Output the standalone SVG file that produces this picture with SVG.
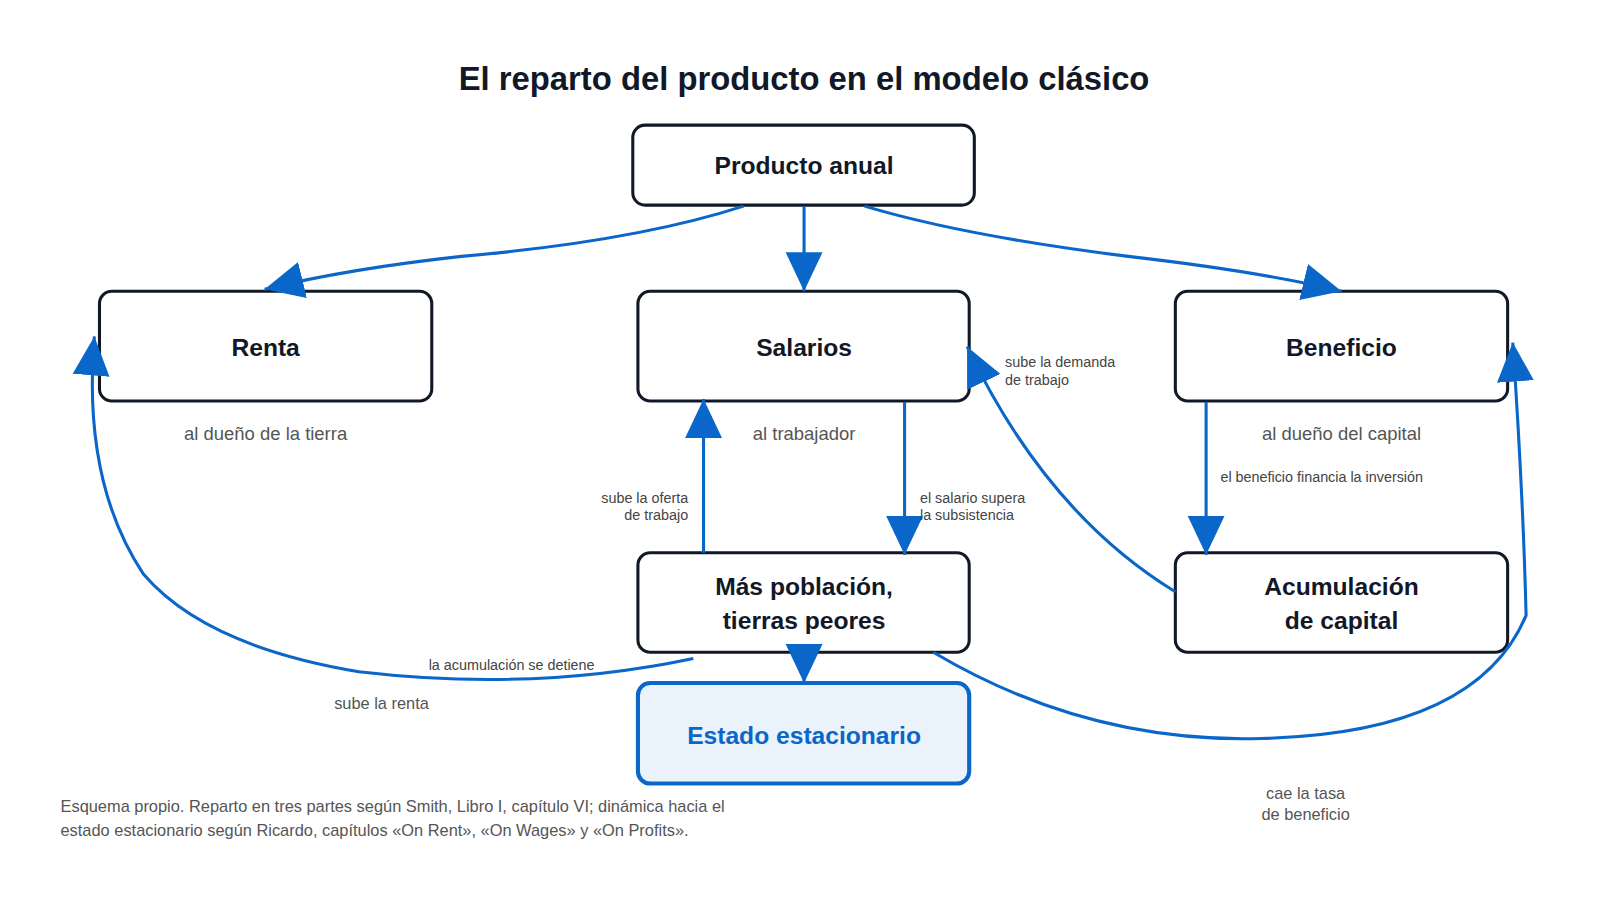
<svg xmlns="http://www.w3.org/2000/svg" width="1600" height="900" viewBox="0 0 1600 900">
<style>
.n{fill:#fff;stroke:#111827;stroke-width:3}
.t{font-family:"Liberation Sans",Arial,sans-serif;font-weight:bold;font-size:24px;fill:#111827;text-anchor:middle}
.s{font-family:"Liberation Sans",Arial,sans-serif;font-size:18px;fill:#555;text-anchor:middle}
.l{font-family:"Liberation Sans",Arial,sans-serif;font-size:14px;fill:#444}
.c{fill:none;stroke:#0a66c8;stroke-width:3}
</style>
<defs>
<marker id="a" markerUnits="userSpaceOnUse" markerWidth="40" markerHeight="40" viewBox="0 0 40 40" refX="38" refY="20" orient="auto"><path d="M0,2 L38,20 L0,38 Z" fill="#0a66c8"/></marker>
</defs>
<rect width="1600" height="900" fill="#fff"/>
<g transform="scale(1.0256)">
<text x="784" y="88" class="t" style="font-size:32px">El reparto del producto en el modelo clásico</text>
<g id="producto"><rect class="n" x="617" y="122" width="333" height="78" rx="12"/><text class="t" x="784" y="170">Producto anual</text></g>
<g id="renta"><rect class="n" x="97" y="284" width="324" height="107" rx="12"/><text class="t" x="259" y="347">Renta</text><text class="s" x="259" y="429">al dueño de la tierra</text></g>
<g id="salarios"><rect class="n" x="622" y="284" width="323" height="107" rx="12"/><text class="t" x="784" y="347">Salarios</text><text class="s" x="784" y="429">al trabajador</text></g>
<g id="beneficio"><rect class="n" x="1146" y="284" width="324" height="107" rx="12"/><text class="t" x="1308" y="347">Beneficio</text><text class="s" x="1308" y="429">al dueño del capital</text></g>
<g id="poblacion"><rect class="n" x="622" y="539" width="323" height="97" rx="12"/><text class="t" x="784" y="580">Más población,</text><text class="t" x="784" y="613">tierras peores</text></g>
<g id="acumulacion"><rect class="n" x="1146" y="539" width="324" height="97" rx="12"/><text class="t" x="1308" y="580">Acumulación</text><text class="t" x="1308" y="613">de capital</text></g>
<g id="estado"><rect x="622" y="666" width="323" height="98" rx="12" fill="#eaf2fc" stroke="#0a66c8" stroke-width="4"/><text class="t" x="784" y="725" style="fill:#0a66c8">Estado estacionario</text></g>
<g id="connectors">
<path class="c" marker-end="url(#a)" d="M725,201 Q620,235 450,250 Q340,262 258,282"/>
<path class="c" marker-end="url(#a)" d="M784,201 L784,284"/>
<path class="c" marker-end="url(#a)" d="M843,201 Q940,230 1100,250 Q1230,265 1308,284"/>
<path class="c" marker-end="url(#a)" d="M882,392 L882,541"/>
<path class="c" marker-end="url(#a)" d="M686,539 L686,389"/>
<path class="c" marker-end="url(#a)" d="M1176,392 L1176,541"/>
<path class="c" marker-end="url(#a)" d="M1146,577 Q1020,500 943,338"/>
<path class="c" marker-end="url(#a)" d="M676,642 Q520,675 350,655 Q200,630 140,560 Q80,470 92,328"/>
<path class="c" marker-end="url(#a)" d="M784,636 L784,666"/>
<path class="c" marker-end="url(#a)" d="M910,636 Q1060,725 1230,720 Q1440,715 1488,600 Q1485,480 1475,334"/>
</g>
<g class="l">
<text x="980" y="358">sube la demanda</text><text x="980" y="375">de trabajo</text>
<text x="671" y="490" text-anchor="end">sube la oferta</text><text x="671" y="507" text-anchor="end">de trabajo</text>
<text x="897" y="490">el salario supera</text><text x="897" y="507">la subsistencia</text>
<text x="1190" y="470">el beneficio financia la inversión</text>
<text x="418" y="653">la acumulación se detiene</text>
</g>
<text class="s" x="372" y="691" style="font-size:16px">sube la renta</text>
<text class="s" x="1273" y="779" style="font-size:16px">cae la tasa</text>
<text class="s" x="1273" y="800" style="font-size:16px">de beneficio</text>
<text x="59" y="792" style="font-family:'Liberation Sans',Arial,sans-serif;font-size:16px;fill:#555">Esquema propio. Reparto en tres partes según Smith, Libro I, capítulo VI; dinámica hacia el</text>
<text x="59" y="815" style="font-family:'Liberation Sans',Arial,sans-serif;font-size:16px;fill:#555">estado estacionario según Ricardo, capítulos «On Rent», «On Wages» y «On Profits».</text>
</g>
</svg>
